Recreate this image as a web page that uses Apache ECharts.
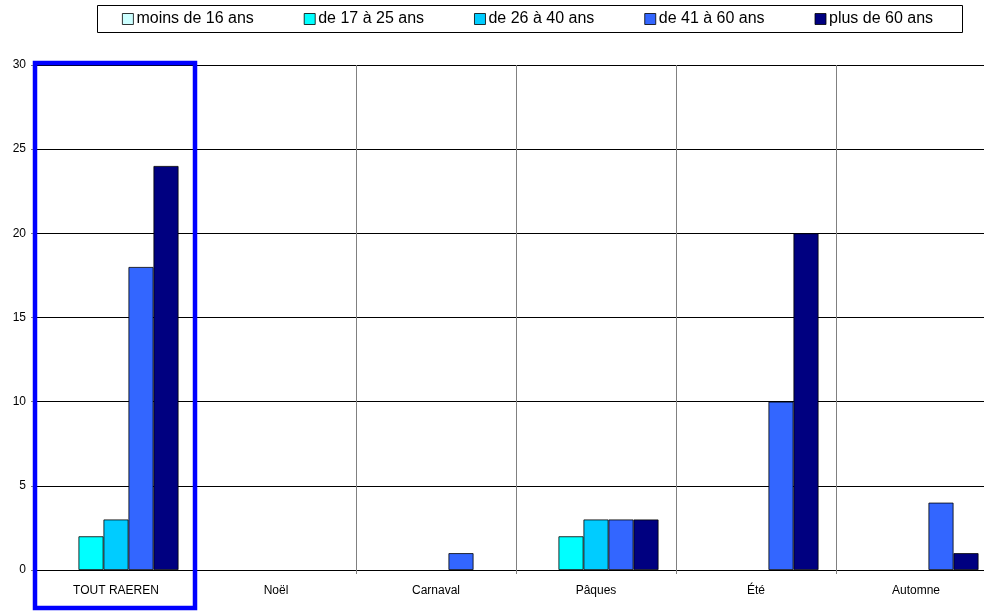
<!DOCTYPE html>
<html><head><meta charset="utf-8">
<script src="https://cdn.jsdelivr.net/npm/echarts@6/dist/echarts.min.js"></script>
<style>html,body{margin:0;padding:0;background:#fff;overflow:hidden;}#c{width:1000px;height:613px;}</style>
</head><body><div id="c"></div>
<script>
var categories = ['TOUT RAEREN', 'Noël', 'Carnaval', 'Pâques', 'Été', 'Automne'];
var seriesNames = ['moins de 16 ans', 'de 17 à 25 ans', 'de 26 à 40 ans', 'de 41 à 60 ans', 'plus de 60 ans'];
var moins16 = [0, 0, 0, 0, 0, 0];
var de17a25 = [2, 0, 0, 2, 0, 0];
var de26a40 = [3, 0, 0, 3, 0, 0];
var de41a60 = [18, 0, 1, 3, 10, 4];
var plus60 = [24, 0, 0, 3, 20, 1];
var colors = ['#CCFFFF', '#00FFFF', '#00CCFF', '#3366FF', '#000080'];
var yTicks = [0, 5, 10, 15, 20, 25, 30];

var allData = [moins16, de17a25, de26a40, de41a60, plus60];
var chart = echarts.init(document.getElementById('c'), null, {renderer: 'canvas'});
var font = 'Liberation Sans, Arial, sans-serif';
var series = seriesNames.map(function (n, i) {
  return {
    name: n, type: 'bar', barWidth: 25, barGap: '0%',
    data: allData[i].map(function (v) {
      return v === 0 ? {value: v, itemStyle: {borderWidth: 0}} : v;
    }),
    itemStyle: {color: colors[i], borderColor: '#000', borderWidth: 0.8},
    emphasis: {disabled: true}, animation: false
  };
});
chart.setOption({
  animation: false,
  textStyle: {fontFamily: font},
  legend: {
    data: seriesNames, left: 122, top: 11, padding: 0, itemWidth: 11, itemHeight: 11, itemGap: 50,
    icon: 'rect', textStyle: {fontFamily: font, fontSize: 16, color: '#000', padding: [0, 0, 0, -2]},
    itemStyle: {borderColor: '#000', borderWidth: 0.8}
  },
  grid: {left: 36, top: 65, width: 960, height: 505, containLabel: false},
  xAxis: {
    type: 'category', data: categories,
    axisLine: {lineStyle: {color: '#000', width: 1}},
    axisTick: {show: true, length: 4, lineStyle: {color: '#808080'}},
    axisLabel: {fontSize: 12, color: '#000', margin: 15, fontFamily: font},
    splitLine: {show: true, lineStyle: {color: '#808080', width: 1}}
  },
  yAxis: {
    type: 'value', min: 0, max: 30, interval: 5,
    axisLine: {show: true, lineStyle: {color: '#808080'}},
    axisTick: {show: true, length: 5, lineStyle: {color: '#808080'}},
    axisLabel: {fontSize: 12, color: '#000', margin: 10, fontFamily: font,
      formatter: function (v) { return yTicks.indexOf(v) >= 0 ? String(v) : ''; }},
    splitLine: {show: true, lineStyle: {color: '#000', width: 1}}
  },
  graphic: [
    {type: 'rect', shape: {x: 97.5, y: 5.5, width: 865, height: 27},
      style: {fill: 'none', stroke: '#000', lineWidth: 1}, z: 0},
    {type: 'rect', shape: {x: 35, y: 63, width: 160, height: 545},
      style: {fill: 'none', stroke: '#0000FF', lineWidth: 4.5}, z: 100}
  ],
  series: series
});
</script></body></html>
